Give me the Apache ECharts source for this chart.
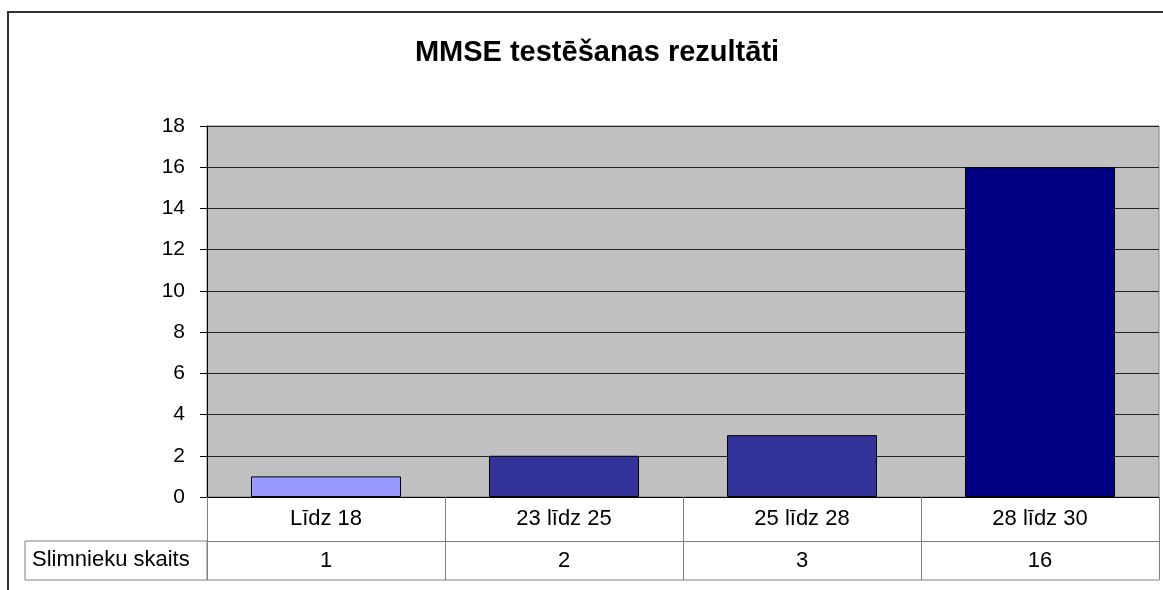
<!DOCTYPE html>
<html>
<head>
<meta charset="utf-8">
<script src="https://cdn.jsdelivr.net/npm/echarts@6/dist/echarts.min.js"></script>
<style>
  html, body { margin: 0; padding: 0; background: #fff; }
  #chart { width: 1163px; height: 590px; }
</style>
</head>
<body>
<div id="chart"></div>
<script>
const categories = ['Līdz 18', '23 līdz 25', '25 līdz 28', '28 līdz 30'];
const counts = [1, 2, 3, 16];
const barColors = ['#9999FF', '#333399', '#333399', '#000080'];
const yTicks = { min: 0, max: 18, step: 2 };
const rowLabel = 'Slimnieku skaits';

const font = "'Liberation Sans', Arial, sans-serif";
const chart = echarts.init(document.getElementById('chart'), null, { renderer: 'canvas' });

const option = {
  backgroundColor: '#fff',
  animation: false,
  title: {
    text: 'MMSE testēšanas rezultāti',
    left: 592,
    textAlign: 'center',
    top: 33,
    textStyle: { fontFamily: font, fontSize: 29, fontWeight: 'bold', color: '#000' }
  },
  grid: {
    left: 207, right: 4, top: 126, bottom: 93,
    show: true,
    backgroundColor: '#C0C0C0',
    borderColor: '#808080',
    borderWidth: 1
  },
  xAxis: [
    {
      type: 'category',
      data: categories,
      position: 'bottom',
      axisLine: { show: true, lineStyle: { color: '#000', width: 1 } },
      axisTick: { show: true, length: 83, alignWithLabel: false, lineStyle: { color: '#808080' } },
      axisLabel: { fontFamily: font, fontSize: 22, color: '#000', margin: 11 },
      splitLine: { show: false }
    },
    {
      type: 'category',
      data: counts.map(String),
      position: 'bottom',
      offset: 44,
      axisLine: { show: true, lineStyle: { color: '#808080', width: 1 } },
      axisTick: { show: false },
      axisLabel: { fontFamily: font, fontSize: 22, color: '#000', margin: 9 },
      splitLine: { show: false }
    }
  ],
  yAxis: {
    type: 'value',
    min: yTicks.min,
    max: yTicks.max,
    interval: yTicks.step,
    axisLine: { show: true, lineStyle: { color: '#000', width: 1 } },
    axisTick: { show: true, length: 7, lineStyle: { color: '#000' } },
    axisLabel: { fontFamily: font, fontSize: 21, color: '#000', margin: 22 },
    splitLine: { show: true, lineStyle: { color: '#222', width: 1 } }
  },
  series: [{
    type: 'bar',
    xAxisIndex: 0,
    barWidth: 150,
    data: counts.map((v, i) => ({
      value: v,
      itemStyle: { color: barColors[i] }
    })),
    itemStyle: { borderColor: '#000', borderWidth: 1 }
  }],
  graphic: [
    // outer chart frame (cut off at right and bottom)
    {
      type: 'rect',
      shape: { x: 8, y: 12, width: 1170, height: 600 },
      style: { fill: 'none', stroke: '#333', lineWidth: 2 },
      z: 10
    },
    // row header cell of the data table
    {
      type: 'rect',
      shape: { x: 25, y: 541, width: 182, height: 39 },
      style: { fill: 'none', stroke: '#808080', lineWidth: 1 },
      z: 10
    },
    {
      type: 'line',
      shape: { x1: 207, y1: 580, x2: 1159, y2: 580 },
      style: { stroke: '#808080', lineWidth: 1 },
      z: 10
    },
    {
      type: 'text',
      left: 32,
      top: 549,
      style: { text: rowLabel, font: '22px ' + font, fill: '#000' },
      z: 10
    }
  ]
};

chart.setOption(option);
</script>
</body>
</html>
